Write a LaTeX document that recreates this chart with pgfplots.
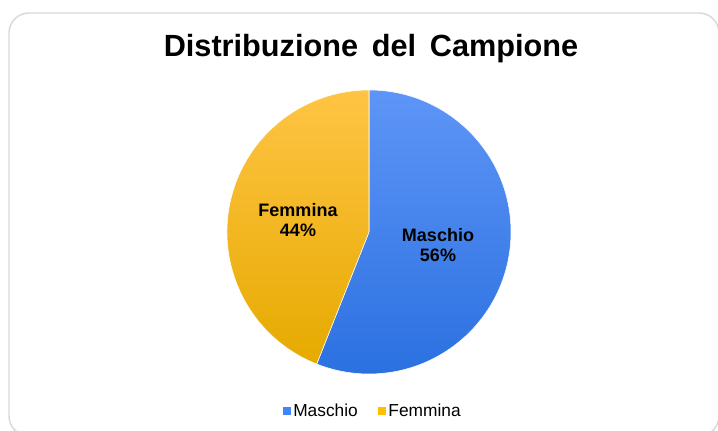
\documentclass[border=0pt]{standalone}
\usepackage{pgfplots}
\pgfplotsset{compat=1.18}
\usepackage{pgfplotstable}
\usepackage{fontspec}
\setmainfont{Liberation Sans}
\definecolor{mblueT}{HTML}{5E95F7}
\definecolor{mblueM}{HTML}{3F85FF}
\definecolor{mblueB}{HTML}{2A70E0}
\definecolor{fyelT}{HTML}{FFC445}
\definecolor{fyelM}{HTML}{FFBE00}
\definecolor{fyelB}{HTML}{E6AA00}
\definecolor{bordergray}{HTML}{D9D9D9}
\pgfplotstableread{
label value
Maschio 56
Femmina 44
}\piedata
\pgfplotstablegetelem{0}{value}\of\piedata
\let\valA\pgfplotsretval
\pgfplotstablegetelem{1}{value}\of\piedata
\let\valB\pgfplotsretval
\pgfmathsetmacro\angA{90-3.6*\valA}
\pgfmathsetmacro\angB{\angA-3.6*\valB}
\begin{document}
\begin{tikzpicture}
\begin{axis}[
  x=0.75pt, y=0.75pt,
  xmin=0, xmax=718, ymin=0, ymax=431,
  hide axis, clip=false,
  legend columns=2,
  legend style={at={(373/718,20/431)}, anchor=center, draw=none, fill=none,
    font=\fontsize{13pt}{15pt}\selectfont,
    /tikz/every even column/.append style={column sep=13pt}},
  legend image code/.code={\fill[#1] (0pt,-3pt) rectangle (6pt,3pt);},
]
% border
\draw[bordergray, line width=1.1pt, rounded corners=15pt] (9,-5) rectangle (719,418);
% slices
\shade[top color=mblueT, middle color=mblueM, bottom color=mblueB, draw=white, line width=0.4pt]
  (369,199) -- ++(90:106.5pt) arc[start angle=90, end angle=\angA, radius=106.5pt] -- cycle;
\shade[top color=fyelT, middle color=fyelM, bottom color=fyelB, draw=white, line width=0.4pt]
  (369,199) -- ++(\angA:106.5pt) arc[start angle=\angA, end angle=\angB, radius=106.5pt] -- cycle;
% labels
\node[align=center, font=\fontsize{13.5pt}{15pt}\selectfont\bfseries] at (438,186) {Maschio\\\valA\%};
\node[align=center, font=\fontsize{13.5pt}{15pt}\selectfont\bfseries] at (298,211) {Femmina\\\valB\%};
% title
\node[anchor=base, font=\fontsize{23pt}{27pt}\selectfont\bfseries] at (371,374) {Distribuzione\hspace{0.45em}del\hspace{0.45em}Campione};
\addlegendimage{fill=mblueM, draw=none}
\addlegendentry{Maschio}
\addlegendimage{fill=fyelM, draw=none}
\addlegendentry{Femmina}
\end{axis}
\pgfresetboundingbox
\useasboundingbox (0,0) rectangle (538.5pt,323.25pt);
\end{tikzpicture}
\end{document}
